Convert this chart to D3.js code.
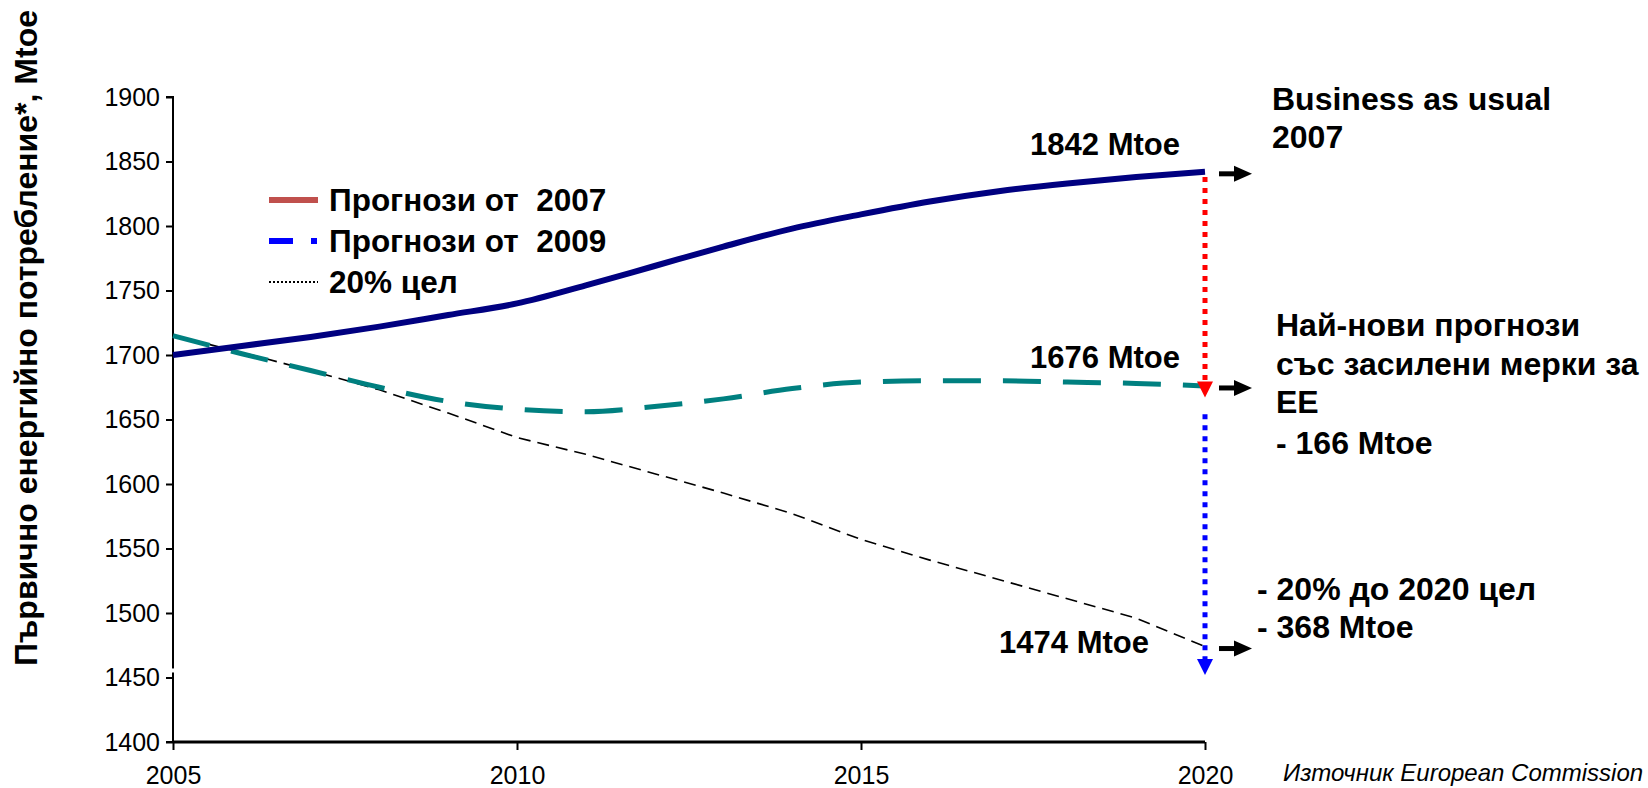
<!DOCTYPE html>
<html>
<head>
<meta charset="utf-8">
<script src="https://cdn.jsdelivr.net/npm/d3@7"></script>
<style>
  body { margin: 0; background: #fff; }
  svg { font-family: "Liberation Sans", Arial, sans-serif; }
  text { white-space: pre; }
</style>
</head>
<body>
<div id="chart"></div>
<script>
// chart data
var years = [2005, 2006, 2007, 2008, 2009, 2010, 2011, 2012, 2013, 2014, 2015, 2016, 2017, 2018, 2019, 2020];
var bau2007 = [1700, 1707, 1714, 1722, 1731, 1740, 1754, 1769, 1784, 1798, 1809, 1819, 1827, 1833, 1838, 1842];
var latest2009 = [1715, 1701, 1688, 1675, 1664, 1658, 1656, 1660, 1666, 1674, 1679, 1680, 1680, 1679, 1678, 1676];
var target20 = [1715, 1702, 1688, 1673, 1655, 1636, 1623, 1608, 1593, 1577, 1557, 1541, 1526, 1511, 1496, 1474];

var yTicks = [1400, 1450, 1500, 1550, 1600, 1650, 1700, 1750, 1800, 1850, 1900];
var xTicks = [2005, 2010, 2015, 2020];

var legendLabels = ['Прогнози от  2007', 'Прогнози от  2009', '20% цел'];
var noteBau = ['Business as usual', '2007'];
var noteLatest = ['Най-нови прогнози', 'със засилени мерки за', 'ЕЕ', '- 166 Mtoe'];
var noteTarget = ['- 20% до 2020 цел', '- 368 Mtoe'];
var redGap = [1838, 1667];   // from, to (Mtoe)
var blueGap = [1654, 1452];

var W = 1648, H = 788;
var svg = d3.select('#chart').append('svg')
    .attr('width', W)
    .attr('height', H);

var x = d3.scaleLinear().domain([2005, 2020]).range([173, 1205]);
var y = d3.scaleLinear().domain([1400, 1900]).range([742, 97]);

// y axis
var yAxis = svg.append('g')
    .attr('transform', 'translate(' + x(2005) + ',0)')
    .call(d3.axisLeft(y).tickValues(yTicks).tickSize(7).tickPadding(6).tickFormat(d3.format('d')));
yAxis.select('.domain').attr('stroke', '#000').attr('stroke-width', 2).attr('d', 'M-7,' + y(1900) + 'H0V' + y(1400) + 'H-7');
yAxis.selectAll('.tick line').attr('stroke', '#000').attr('stroke-width', 2);
yAxis.selectAll('.tick text').attr('font-size', 25).attr('fill', '#000')
    .attr('font-family', '"Liberation Sans", Arial, sans-serif');
// small break in the axis line just above 1450
svg.append('rect')
    .attr('x', x(2005) - 2)
    .attr('y', y(1457))
    .attr('width', 4)
    .attr('height', 4)
    .attr('fill', '#fff');

// x axis
var xAxis = svg.append('g')
    .attr('transform', 'translate(0,' + y(1400) + ')')
    .call(d3.axisBottom(x).tickValues(xTicks).tickSize(8).tickPadding(16).tickFormat(d3.format('d')));
xAxis.select('.domain').attr('stroke', '#000').attr('stroke-width', 3).attr('d', 'M' + x(2005) + ',0H' + x(2020));
xAxis.selectAll('.tick line').attr('stroke', '#000').attr('stroke-width', 2);
xAxis.selectAll('.tick text').attr('font-size', 25).attr('fill', '#000')
    .attr('font-family', '"Liberation Sans", Arial, sans-serif');

// y axis title
svg.append('text')
    .attr('transform', 'translate(37,' + 338 + ') rotate(-90)')
    .attr('text-anchor', 'middle')
    .attr('font-size', 31)
    .attr('font-weight', 'bold')
    .attr('textLength', 656)
    .attr('lengthAdjust', 'spacingAndGlyphs')
    .text('Първично енергийно потребление*, Mtoe');

// series
function seriesLine(vals, curve) {
  return d3.line()
      .x(function(d, i) { return x(years[i]); })
      .y(function(d) { return y(d); })
      .curve(curve)(vals);
}

svg.append('path')
    .attr('d', seriesLine(target20, d3.curveLinear))
    .attr('fill', 'none')
    .attr('stroke', '#000')
    .attr('stroke-width', 1.6)
    .attr('stroke-dasharray', '12,7');

svg.append('path')
    .attr('d', seriesLine(latest2009, d3.curveMonotoneX))
    .attr('fill', 'none')
    .attr('stroke', '#008080')
    .attr('stroke-width', 5)
    .attr('stroke-dasharray', '38,22');

svg.append('path')
    .attr('d', seriesLine(bau2007, d3.curveMonotoneX))
    .attr('fill', 'none')
    .attr('stroke', '#000080')
    .attr('stroke-width', 6);

// vertical gap arrows at 2020
function gapArrow(vals, color) {
  var gx = x(2020);
  var tip = y(vals[1]);
  svg.append('line')
      .attr('x1', gx).attr('x2', gx)
      .attr('y1', y(vals[0])).attr('y2', tip - 14)
      .attr('stroke', color)
      .attr('stroke-width', 5)
      .attr('stroke-dasharray', '5,6');
  svg.append('path')
      .attr('d', 'M' + (gx - 8) + ',' + (tip - 16) + 'L' + (gx + 8) + ',' + (tip - 16) + 'L' + gx + ',' + tip + 'Z')
      .attr('fill', color);
}
gapArrow(redGap, '#ff0000');
gapArrow(blueGap, '#0000ff');

// small black arrows pointing to the notes
var last = years.length - 1;
[bau2007[last], latest2009[last], target20[last]].forEach(function(v) {
  var ay = y(v) + 2;
  svg.append('line')
      .attr('x1', 1219).attr('x2', 1236)
      .attr('y1', ay).attr('y2', ay)
      .attr('stroke', '#000')
      .attr('stroke-width', 5);
  svg.append('path')
      .attr('d', 'M1234,' + (ay - 8) + 'L1252,' + ay + 'L1234,' + (ay + 8) + 'Z')
      .attr('fill', '#000');
});

// value labels
var valueLabels = [
  {v: bau2007[last], x: 1180, y: 155},
  {v: latest2009[last], x: 1180, y: 368},
  {v: target20[last], x: 1149, y: 653}
];
valueLabels.forEach(function(d) {
  svg.append('text')
      .attr('x', d.x).attr('y', d.y)
      .attr('text-anchor', 'end')
      .attr('font-size', 31)
      .attr('font-weight', 'bold')
      .text(d.v + ' Mtoe');
});

// right hand notes
function note(lines, x0, baselines) {
  lines.forEach(function(t, i) {
    svg.append('text')
        .attr('x', x0).attr('y', baselines[i])
        .attr('font-size', 32)
        .attr('font-weight', 'bold')
        .text(t);
  });
}
note(noteBau, 1272, [110, 148]);
note(noteLatest, 1276, [336, 375, 413, 454]);
note(noteTarget, 1257, [600, 638]);

// legend
var legend = svg.append('g').attr('transform', 'translate(269,200)');
var legendRows = legend.selectAll('g')
    .data(legendLabels)
  .enter().append('g')
    .attr('transform', function(d, i) { return 'translate(0,' + (i * 41) + ')'; });

legendRows.append('text')
    .attr('x', 60)
    .attr('y', 11)
    .attr('font-size', 31.5)
    .attr('font-weight', 'bold')
    .text(function(d) { return d; });

legend.append('line')
    .attr('x1', 0).attr('x2', 49).attr('y1', 0).attr('y2', 0)
    .attr('stroke', '#c0504d').attr('stroke-width', 6);
legend.append('line')
    .attr('x1', 0).attr('x2', 24).attr('y1', 41).attr('y2', 41)
    .attr('stroke', '#0000ff').attr('stroke-width', 6);
legend.append('line')
    .attr('x1', 42).attr('x2', 48).attr('y1', 41).attr('y2', 41)
    .attr('stroke', '#0000ff').attr('stroke-width', 6);
legend.append('line')
    .attr('x1', 0).attr('x2', 49).attr('y1', 82).attr('y2', 82)
    .attr('stroke', '#000').attr('stroke-width', 2)
    .attr('stroke-dasharray', '2,2');

// source
svg.append('text')
    .attr('x', 1283)
    .attr('y', 781)
    .attr('font-size', 24)
    .attr('font-style', 'italic')
    .text('Източник European Commission');
</script>
</body>
</html>
